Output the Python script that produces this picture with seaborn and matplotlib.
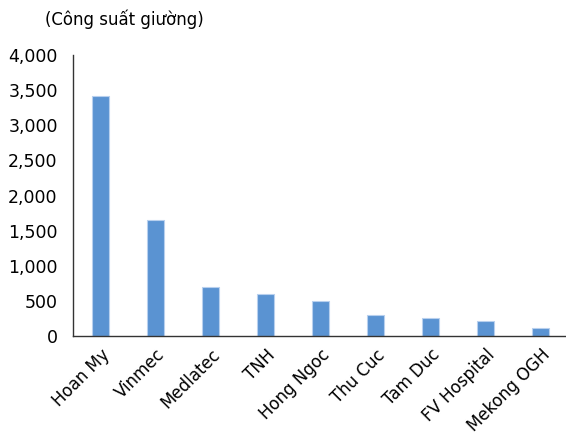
import pandas as pd
import seaborn as sns
import matplotlib.pyplot as plt
from matplotlib.ticker import FuncFormatter, MultipleLocator

hospitals = ['Hoan My', 'Vinmec', 'Medlatec', 'TNH', 'Hong Ngoc',
             'Thu Cuc', 'Tam Duc', 'FV Hospital', 'Mekong OGH']
beds = [3410, 1650, 700, 600, 500, 300, 260, 220, 110]

df = pd.DataFrame({'Hospital': hospitals, 'Beds': beds})

sns.set_style('white')
plt.rcParams['font.family'] = ['DejaVu Sans']
plt.rcParams['text.color'] = 'black'
plt.rcParams['xtick.color'] = 'black'
plt.rcParams['ytick.color'] = 'black'

fig = plt.figure(figsize=(5.66, 4.36), dpi=100)
ax = fig.add_axes([0.129, 0.229, 0.875, 0.645])

sns.barplot(data=df, x='Hospital', y='Beds', color='#5A93D2', width=0.31,
            edgecolor='#B8D0EE', linewidth=0.8, saturation=1, ax=ax)

ax.set_ylim(0, 4000)
ax.set_xlim(-0.5, len(hospitals) - 0.5)
ax.yaxis.set_major_locator(MultipleLocator(500))
ax.yaxis.set_major_formatter(FuncFormatter(lambda v, p: f'{int(v):,}'))

# ticks between categories on the x axis
ax.set_xticks([i + 0.5 for i in range(len(hospitals) - 1)], minor=True)
ax.set_xticks(range(len(hospitals)))
ax.set_xticklabels(hospitals, rotation=45, ha='right', rotation_mode='anchor')
ax.tick_params(axis='x', which='major', length=0, labelsize=12, pad=7)
ax.tick_params(axis='x', which='minor', direction='in', length=5, width=1, color='#333333')
ax.tick_params(axis='y', direction='in', length=6, width=1, color='#333333', labelsize=12.5, pad=11)

for s in ['top', 'right']:
    ax.spines[s].set_visible(False)
for s in ['left', 'bottom']:
    ax.spines[s].set_color('#333333')
    ax.spines[s].set_linewidth(1)

ax.set_xlabel('')
ax.set_ylabel('')
fig.text(0.079, 0.955, '(Công suất giường)', fontsize=12, va='center', ha='left')

fig.savefig('out.png', dpi=100)
